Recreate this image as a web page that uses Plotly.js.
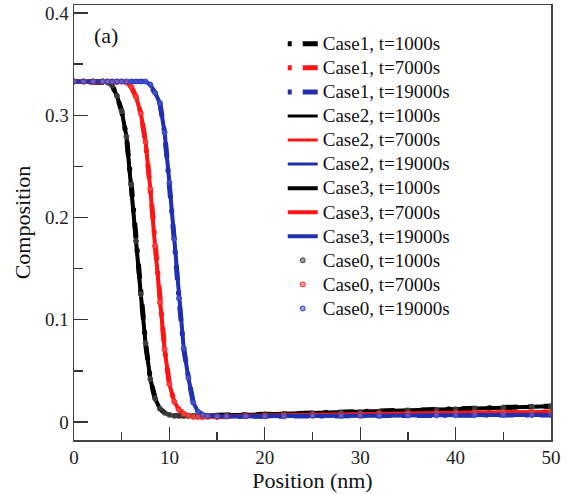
<!DOCTYPE html>
<html>
<head>
<meta charset="utf-8">
<script src="https://cdn.plot.ly/plotly-3.0.1.min.js"></script>
<style>html,body{margin:0;padding:0;background:#fff;}#chart{width:575px;height:494px;}</style>
</head>
<body>
<div id="chart"></div>
<script>
// Position (nm)
const position = [0,1,2,3,3.5,4,4.5,5,5.5,6,6.5,7,7.5,8,8.5,9,9.5,10,10.5,11,11.5,12,12.5,13,13.5,14,15,16,18,20,22,25,28,30,32,35,38,40,42,45,48,50];
// Composition at t=1000s
const comp1000 = [0.333,0.333,0.333,0.333,0.332,0.329,0.319,0.304,0.279,0.232,0.177,0.125,0.077,0.042,0.023,0.013,0.009,0.007,0.006,0.006,0.006,0.006,0.006,0.006,0.006,0.006,0.006,0.0065,0.007,0.0075,0.008,0.0085,0.009,0.0095,0.010,0.011,0.012,0.0125,0.013,0.014,0.015,0.0155];
// Composition at t=7000s
const comp7000 = [0.333,0.333,0.333,0.333,0.333,0.333,0.333,0.333,0.332,0.328,0.318,0.302,0.274,0.228,0.172,0.117,0.071,0.037,0.020,0.012,0.008,0.006,0.005,0.005,0.005,0.005,0.005,0.0055,0.006,0.006,0.0065,0.007,0.0072,0.0075,0.008,0.0083,0.0087,0.009,0.0092,0.0095,0.0097,0.0098];
// Composition at t=19000s
const comp19000 = [0.333,0.333,0.333,0.333,0.333,0.333,0.333,0.333,0.333,0.333,0.333,0.333,0.333,0.330,0.322,0.312,0.283,0.234,0.179,0.121,0.072,0.043,0.019,0.010,0.007,0.006,0.0055,0.0055,0.0055,0.0055,0.0055,0.006,0.006,0.006,0.006,0.0063,0.0065,0.0065,0.0067,0.0068,0.0068,0.0069];

const times = ['t=1000s','t=7000s','t=19000s'];
const series = [comp1000, comp7000, comp19000];
const colors = ['#000000','#ff1414','#2030b0'];
const markerFills = ['rgba(90,90,90,0.6)','rgba(255,90,90,0.6)','rgba(90,100,220,0.6)'];
const markerLines = ['#444444','#ff2020','#3040c0'];

const lbl = s => '<span style="font-size:19px">' + s + '</span>';

const traces = [];
// Case1: dot-dash
for (let i=0;i<3;i++) traces.push({x:position,y:series[i],mode:'lines',name:lbl('Case1, '+times[i]),
  line:{color:colors[i],width:5,dash:'4px,11px,15px,11px'}});
// Case2: thin solid
for (let i=0;i<3;i++) traces.push({x:position,y:series[i],mode:'lines',name:lbl('Case2, '+times[i]),
  line:{color:colors[i],width:3}});
// Case3: thick solid
for (let i=0;i<3;i++) traces.push({x:position,y:series[i],mode:'lines',name:lbl('Case3, '+times[i]),
  line:{color:colors[i],width:4}});
// Case0: circles
for (let i=0;i<3;i++) traces.push({x:position,y:series[i],mode:'markers',name:lbl('Case0, '+times[i]),
  marker:{symbol:'circle',size:5,color:markerFills[i],line:{color:markerLines[i],width:1}}});

const font = 'Liberation Serif';
const layout = {
  width:575,height:494,
  margin:{l:74,r:24,t:5,b:54},
  paper_bgcolor:'#fff',plot_bgcolor:'#fff',
  showlegend:true,
  legend:{x:0.4376,y:0.950,xanchor:'left',yanchor:'top',bgcolor:'rgba(0,0,0,0)',
    font:{family:font,size:16.2,color:'#111'},tracegroupgap:0},
  xaxis:{range:[0,50],tickvals:[0,10,20,30,40,50],ticks:'inside',ticklen:13,tickwidth:1.3,tickcolor:'#333',
    minor:{tickvals:[5,15,25,35,45],ticks:'inside',ticklen:8,tickwidth:1.3,tickcolor:'#333'},
    showline:true,mirror:true,linecolor:'#444',linewidth:1.5,showgrid:false,zeroline:false,
    tickfont:{family:font,size:19,color:'#222'},
    title:{text:'Position (nm)',font:{family:font,size:22,color:'#111'},standoff:4}},
  yaxis:{range:[-0.0176,0.4078],tickvals:[0,0.1,0.2,0.3,0.4],ticktext:['0','0.1','0.2','0.3','0.4'],
    ticks:'inside',ticklen:14,tickwidth:1.3,tickcolor:'#333',
    minor:{tickvals:[0.05,0.15,0.25,0.35],ticks:'inside',ticklen:9,tickwidth:1.3,tickcolor:'#333'},
    showline:true,mirror:true,linecolor:'#444',linewidth:1.5,showgrid:false,zeroline:false,
    tickfont:{family:font,size:19,color:'#222'},
    title:{text:'Composition',font:{family:font,size:22,color:'#111'},standoff:8}},
  annotations:[{text:'(a)',xref:'paper',yref:'paper',x:0.038,y:0.93,xanchor:'left',yanchor:'middle',
    showarrow:false,font:{family:font,size:22,color:'#111'}}]
};
Plotly.newPlot('chart',traces,layout,{displayModeBar:false,staticPlot:true});
</script>
</body>
</html>
